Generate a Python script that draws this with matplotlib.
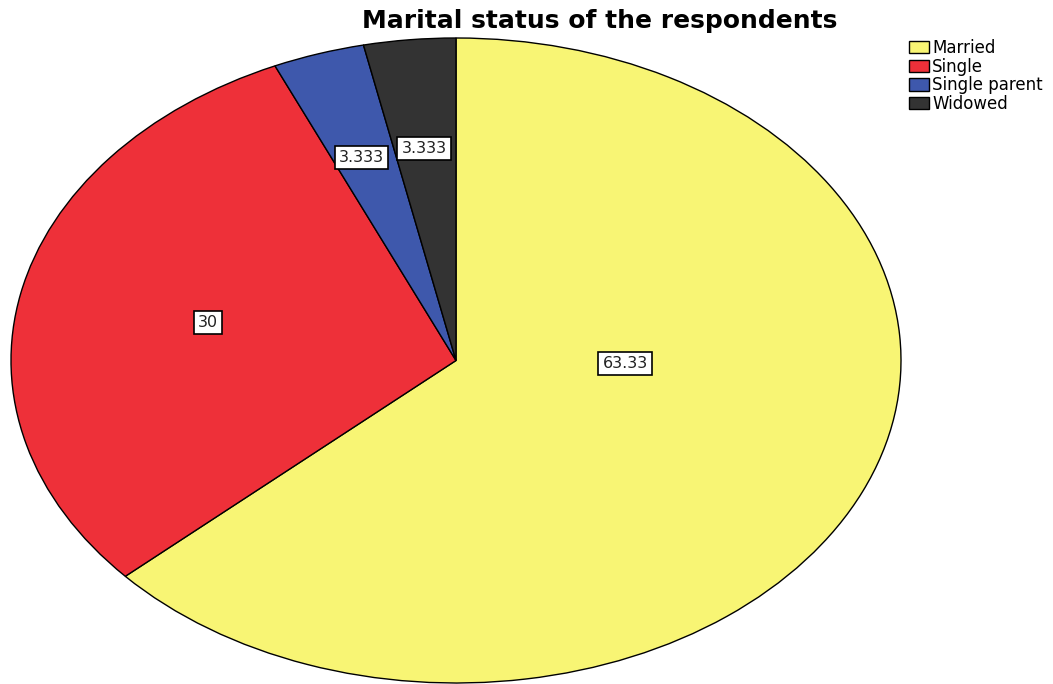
import matplotlib.pyplot as plt

plt.rcParams['font.family'] = ['DejaVu Sans']

categories = ["Married", "Single", "Single parent", "Widowed"]
percents = [63.33, 30.0, 3.333, 3.333]
value_labels = ["63.33", "30", "3.333", "3.333"]

colors = ["#F8F574", "#EE3039", "#3E58AC", "#333333"]
# label positions in data coordinates of the unit pie (layout only)
label_pos = [(0.38, -0.01), (-0.557, 0.118), (-0.213, 0.63), (-0.072, 0.658)]

W, H = 1053, 684
fig = plt.figure(figsize=(W / 100, H / 100), dpi=100)

ax = fig.add_axes([11 / W, 1 / H, 890 / W, 645 / H])

wedges, _ = ax.pie(
    percents,
    colors=colors,
    startangle=90,
    counterclock=False,
    wedgeprops=dict(edgecolor="black", linewidth=1)
)

ax.set_aspect("auto")
ax.set_xlim(-1, 1)
ax.set_ylim(-1, 1)

for (x, y), txt in zip(label_pos, value_labels):
    ax.text(
        x, y, txt,
        ha="center", va="center",
        fontsize=11.5, color="#222222",
        bbox=dict(facecolor="white", edgecolor="black", boxstyle="square,pad=0.25", linewidth=1.2)
    )

fig.text(
    600 / W, 1 - 21 / H,
    "Marital status of the respondents",
    ha="center", va="center",
    fontsize=18, fontweight="bold"
)

fig.legend(
    wedges, categories,
    loc="upper left",
    bbox_to_anchor=(902 / W, 1 - 32 / H),
    frameon=False,
    fontsize=12,
    handlelength=1.2,
    handleheight=0.75,
    handletextpad=0.2,
    labelspacing=0.05,
    borderaxespad=0
)

plt.savefig("out.png", dpi=100)
